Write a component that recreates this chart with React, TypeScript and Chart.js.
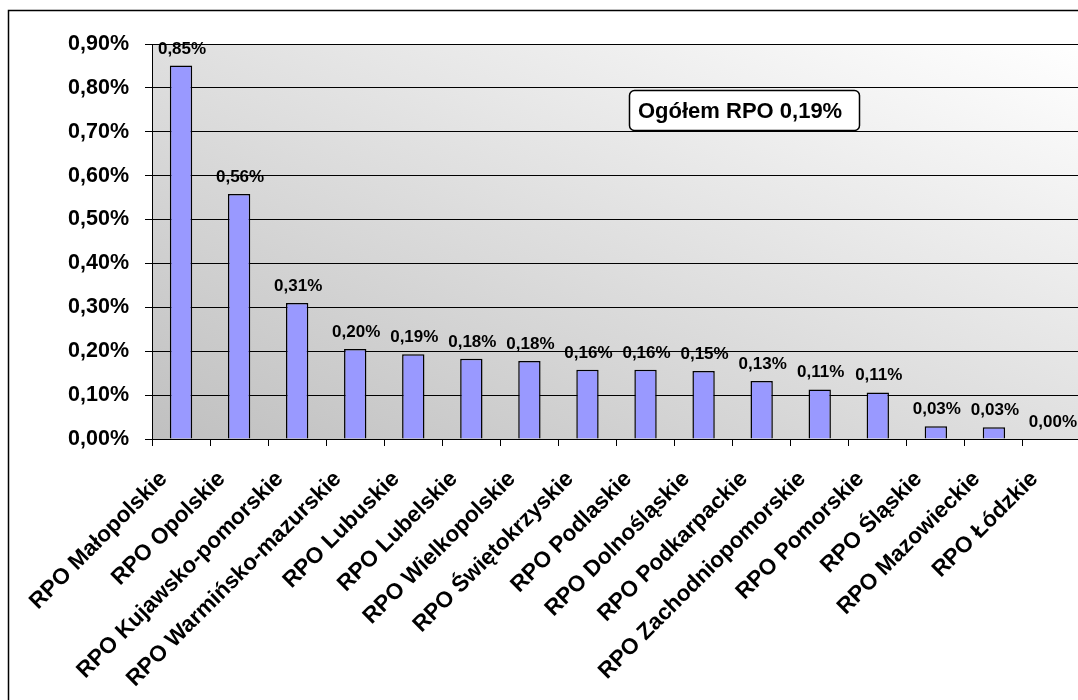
import React, { useEffect, useRef } from "react";
import { Chart, registerables } from "chart.js";

Chart.register(...registerables);

const categories = [
  "RPO Małopolskie",
  "RPO Opolskie",
  "RPO Kujawsko-pomorskie",
  "RPO Warmińsko-mazurskie",
  "RPO Lubuskie",
  "RPO Lubelskie",
  "RPO Wielkopolskie",
  "RPO Świętokrzyskie",
  "RPO Podlaskie",
  "RPO Dolnośląskie",
  "RPO Podkarpackie",
  "RPO Zachodniopomorskie",
  "RPO Pomorskie",
  "RPO Śląskie",
  "RPO Mazowieckie",
  "RPO Łódzkie",
];

// values in percent
const values = [
  0.851, 0.558, 0.31, 0.205, 0.193, 0.183, 0.178, 0.158, 0.158, 0.155, 0.132,
  0.113, 0.106, 0.029, 0.027, 0.0,
];

const valueLabels = [
  "0,85%", "0,56%", "0,31%", "0,20%", "0,19%", "0,18%", "0,18%", "0,16%",
  "0,16%", "0,15%", "0,13%", "0,11%", "0,11%", "0,03%", "0,03%", "0,00%",
];

const annotationText = "Ogółem RPO 0,19%";

const FONT = "'Liberation Sans', Arial, sans-serif";
const W = 1100;
const H = 720;

const bgPlugin = {
  id: "bgPlugin",
  beforeDraw(chart: any) {
    const ctx = chart.ctx;
    const { left, right, top, bottom } = chart.chartArea;
    ctx.save();
    ctx.fillStyle = "#ffffff";
    ctx.fillRect(0, 0, W, H);
    ctx.strokeStyle = "#000000";
    ctx.lineWidth = 1.5;
    ctx.strokeRect(8.5, 10.5, W, H);
    const w = right - left;
    const h = bottom - top;
    const k = (2 * w * h) / (w * w + h * h);
    const g = ctx.createLinearGradient(left, bottom, left + k * h, bottom - k * w);
    g.addColorStop(0, "#c0c0c0");
    g.addColorStop(1, "#ffffff");
    ctx.fillStyle = g;
    ctx.fillRect(left, top, w, h);
    ctx.restore();
  },
};

const labelPlugin = {
  id: "labelPlugin",
  afterDatasetsDraw(chart: any) {
    const ctx = chart.ctx;
    const meta = chart.getDatasetMeta(0);
    ctx.save();
    ctx.font = `bold 17px ${FONT}`;
    ctx.fillStyle = "#000000";
    ctx.textAlign = "center";
    ctx.textBaseline = "alphabetic";
    meta.data.forEach((el: any, i: number) => {
      ctx.fillText(valueLabels[i], el.x + 1, el.y - 12);
    });
    ctx.restore();
  },
  afterDraw(chart: any) {
    const ctx = chart.ctx;
    ctx.save();
    // rotated category labels
    const xs = chart.scales.x;
    const base = chart.chartArea.bottom;
    ctx.font = `bold 22.5px ${FONT}`;
    ctx.fillStyle = "#000000";
    ctx.textAlign = "right";
    ctx.textBaseline = "alphabetic";
    categories.forEach((c, i) => {
      const cx = xs.getPixelForValue(i);
      ctx.save();
      ctx.translate(cx - 13, base + 41);
      ctx.rotate(-Math.PI / 4);
      ctx.fillText(c, 0, 0);
      ctx.restore();
    });

    // annotation box
    const x = 629.5, y = 90.5, bw = 230, bh = 40, r = 5;
    ctx.beginPath();
    ctx.moveTo(x + r, y);
    ctx.lineTo(x + bw - r, y);
    ctx.arcTo(x + bw, y, x + bw, y + r, r);
    ctx.lineTo(x + bw, y + bh - r);
    ctx.arcTo(x + bw, y + bh, x + bw - r, y + bh, r);
    ctx.lineTo(x + r, y + bh);
    ctx.arcTo(x, y + bh, x, y + bh - r, r);
    ctx.lineTo(x, y + r);
    ctx.arcTo(x, y, x + r, y, r);
    ctx.closePath();
    ctx.fillStyle = "#ffffff";
    ctx.fill();
    ctx.strokeStyle = "#000000";
    ctx.lineWidth = 1.5;
    ctx.stroke();
    ctx.font = `bold 22px ${FONT}`;
    ctx.fillStyle = "#000000";
    ctx.textAlign = "left";
    ctx.textBaseline = "middle";
    ctx.fillText(annotationText, 638, y + bh / 2 + 1);
    ctx.restore();
  },
};

export default function App() {
  const ref = useRef<HTMLCanvasElement | null>(null);
  useEffect(() => {
    if (!ref.current) return;
    const chart = new Chart(ref.current, {
      type: "bar",
      data: {
        labels: categories,
        datasets: [
          {
            data: values,
            backgroundColor: "#9999ff",
            borderColor: "#000000",
            borderWidth: 1.5,
            barPercentage: 0.385,
            categoryPercentage: 1,
          },
        ],
      },
      options: {
        animation: false,
        responsive: false,
        devicePixelRatio: 1,
        layout: { padding: { top: 44, right: 19, left: 10, bottom: 0 } },
        plugins: { legend: { display: false }, tooltip: { enabled: false } },
        scales: {
          x: {
            afterFit: (s: any) => {
              s.height = H - 439;
            },
            grid: {
              offset: true,
              drawOnChartArea: false,
              drawTicks: true,
              tickLength: 7,
              color: "#000000",
              lineWidth: 1,
            },
            border: { display: true, color: "#000000", width: 1 },
            ticks: {
              autoSkip: false,
              maxRotation: 45,
              minRotation: 45,
              padding: 4,
              color: "rgba(0,0,0,0)",
              font: { family: FONT, size: 21, weight: "bold" },
            },
          },
          y: {
            min: 0,
            max: 0.9,
            afterFit: (s: any) => {
              s.width = 142;
            },
            grid: {
              color: "#000000",
              lineWidth: 1,
              drawTicks: true,
              tickLength: 7,
            },
            border: { display: true, color: "#000000", width: 1 },
            ticks: {
              stepSize: 0.1,
              padding: 16,
              color: "#000000",
              font: { family: FONT, size: 21.5, weight: "bold" },
              callback: (v: any) => Number(v).toFixed(2).replace(".", ",") + "%",
            },
          },
        },
      },
      plugins: [bgPlugin, labelPlugin],
    });
    return () => chart.destroy();
  }, []);
  return (
    <div style={{ position: "fixed", left: 0, top: 0, width: 1078, height: 700, overflow: "hidden", background: "#ffffff" }}>
      <canvas ref={ref} width={W} height={H} style={{ position: "absolute", left: 0, top: 0, width: W, height: H }} />
    </div>
  );
}
